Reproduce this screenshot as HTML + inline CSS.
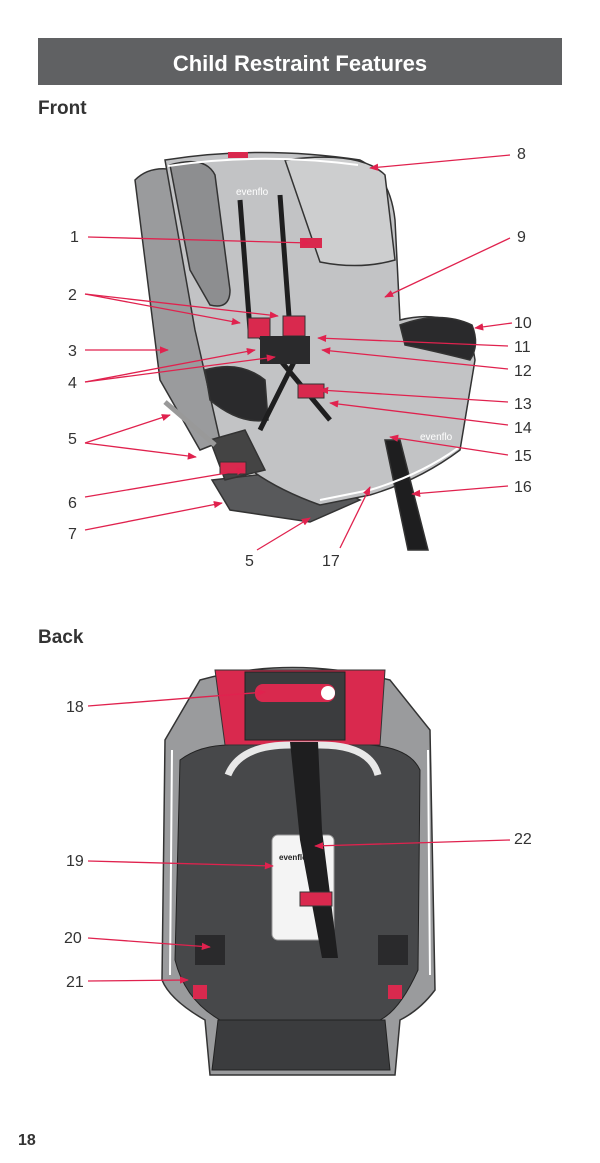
<!DOCTYPE html>
<html><head><meta charset="utf-8"><style>
html,body{margin:0;padding:0;background:#fff;}
body{width:600px;height:1163px;position:relative;overflow:hidden;font-family:"Liberation Sans",sans-serif;}
svg{position:absolute;left:0;top:0;}
</style></head><body>
<svg width="600" height="1163" viewBox="0 0 600 1163" xmlns="http://www.w3.org/2000/svg" font-family="Liberation Sans, sans-serif">
<defs>
<marker id="a" viewBox="0 0 10 10" refX="9" refY="5" markerWidth="7" markerHeight="7" orient="auto"><path d="M0,1 L10,5 L0,9 z" fill="#e0224e"/></marker>
</defs>
<rect x="38" y="38" width="524" height="47" fill="#606163"/>
<text x="300" y="71" text-anchor="middle" fill="#fff" font-size="22" font-weight="bold">Child Restraint Features</text>
<text x="38" y="114" font-size="19" font-weight="bold" fill="#333">Front</text>
<text x="38" y="643" font-size="19" font-weight="bold" fill="#333">Back</text>
<text x="18" y="1145" font-size="16" font-weight="bold" fill="#333">18</text>

<!-- FRONT SEAT -->
<g stroke="#333" stroke-width="1.5">
<path d="M212,480 L230,510 L310,522 L360,500 L300,470 Z" fill="#58595b"/>
<path d="M135,180 Q150,165 175,170 L200,330 L225,440 L200,450 L160,380 Z" fill="#9a9b9d"/>
<path d="M165,160 Q260,145 360,160 Q390,175 395,220 L400,320 Q440,310 470,330 L475,360 L460,450 Q420,480 370,495 L320,505 Q250,480 220,440 L195,330 Z" fill="#c2c3c5"/>
<path d="M170,165 Q205,155 215,175 L230,290 Q230,310 210,305 L190,270 Z" fill="#8d8e90"/>
<path d="M285,160 Q360,150 385,175 L395,260 Q360,270 320,262 Z" fill="#cdcecf"/>
<path d="M400,325 Q440,310 472,325 Q480,345 470,360 Q430,350 405,345 Z" fill="#2a2a2c"/>
<path d="M205,370 Q240,360 265,380 L268,420 Q240,425 210,400 Z" fill="#2a2a2c"/>
<path d="M210,440 L245,430 L265,470 L225,480 Z" fill="#444"/>
<path d="M385,440 L400,440 L428,550 L408,550 Z" fill="#1e1e1f"/>
<path d="M215,445 L165,402" stroke="#999" stroke-width="5"/>
</g>
<path d="M168,166 Q260,152 358,165 M458,448 Q420,475 370,490 L320,500" stroke="#fff" stroke-width="2" fill="none"/>
<rect x="228" y="152" width="20" height="6" fill="#d9294e"/>
<rect x="300" y="238" width="22" height="10" fill="#d9294e"/>
<path d="M240,200 L250,330 M280,195 L290,330 M255,330 L330,420 M300,350 L260,430" stroke="#1e1e1f" stroke-width="5" fill="none"/>
<rect x="248" y="318" width="22" height="20" fill="#d9294e" stroke="#333"/>
<rect x="283" y="316" width="22" height="20" fill="#d9294e" stroke="#333"/>
<rect x="260" y="336" width="50" height="28" fill="#2a2a2c"/>
<rect x="298" y="384" width="26" height="14" fill="#d9294e" stroke="#333"/>
<rect x="220" y="462" width="26" height="12" fill="#d9294e" stroke="#333"/>
<text x="236" y="195" font-size="10" fill="#fff">evenflo</text>
<text x="420" y="440" font-size="10" fill="#fff">evenflo</text>

<!-- BACK SEAT -->
<path d="M200,680 Q290,655 390,680 L430,730 L435,990 Q420,1010 400,1020 L395,1075 L210,1075 L205,1020 Q170,1000 162,980 L165,740 Z" fill="#9a9b9d" stroke="#333" stroke-width="1.5"/>
<path d="M180,760 Q200,745 230,745 L370,745 Q410,748 420,770 L418,970 Q400,1010 380,1020 L220,1020 Q185,1000 175,960 Z" fill="#47484a" stroke="#222"/>
<path d="M172,750 L170,975 M428,750 L430,975" stroke="#fff" stroke-width="2" fill="none"/>
<path d="M218,1020 L385,1020 L390,1070 L212,1070 Z" fill="#3b3c3e" stroke="#222"/>
<path d="M215,670 L385,670 L380,745 L225,745 Z" fill="#d9294e" stroke="#333"/>
<rect x="245" y="672" width="100" height="68" fill="#3b3c3e" stroke="#222"/>
<rect x="255" y="684" width="80" height="18" rx="8" fill="#d9294e"/>
<circle cx="328" cy="693" r="7" fill="#fff"/>
<path d="M228,775 Q240,745 290,745 L320,745 Q370,745 378,775" stroke="#e8e8e8" stroke-width="7" fill="none"/>
<rect x="272" y="835" width="62" height="105" rx="6" fill="#f4f4f4" stroke="#999"/>
<text x="279" y="860" font-size="8" font-weight="bold" fill="#222">evenflo</text>
<path d="M290,742 L318,742 L322,830 L338,958 L322,958 L300,840 Z" fill="#1e1e1f"/>
<rect x="300" y="892" width="32" height="14" fill="#d9294e" stroke="#333"/>
<rect x="193" y="985" width="14" height="14" fill="#d9294e"/>
<rect x="388" y="985" width="14" height="14" fill="#d9294e"/>
<rect x="195" y="935" width="30" height="30" fill="#2a2a2c"/>
<rect x="378" y="935" width="30" height="30" fill="#2a2a2c"/>

<!-- LEADERS -->
<g stroke="#e0224e" stroke-width="1.3" fill="none" marker-end="url(#a)">
<line x1="510" y1="155" x2="370" y2="168"/>
<line x1="88" y1="237" x2="310" y2="243"/>
<line x1="510" y1="238" x2="385" y2="297"/>
<line x1="85" y1="294" x2="278" y2="316"/>
<line x1="85" y1="294" x2="240" y2="323"/>
<line x1="512" y1="323" x2="475" y2="328"/>
<line x1="85" y1="350" x2="168" y2="350"/>
<line x1="508" y1="346" x2="318" y2="338"/>
<line x1="508" y1="369" x2="322" y2="350"/>
<line x1="85" y1="382" x2="255" y2="350"/>
<line x1="85" y1="382" x2="275" y2="357"/>
<line x1="508" y1="402" x2="320" y2="390"/>
<line x1="508" y1="425" x2="330" y2="403"/>
<line x1="85" y1="443" x2="170" y2="415"/>
<line x1="85" y1="443" x2="196" y2="457"/>
<line x1="508" y1="455" x2="390" y2="437"/>
<line x1="508" y1="486" x2="412" y2="494"/>
<line x1="85" y1="497" x2="245" y2="470"/>
<line x1="85" y1="530" x2="222" y2="503"/>
<line x1="257" y1="550" x2="310" y2="518"/>
<line x1="340" y1="548" x2="370" y2="487"/>
<line x1="88" y1="706" x2="265" y2="692"/>
<line x1="88" y1="861" x2="273" y2="866"/>
<line x1="510" y1="840" x2="315" y2="846"/>
<line x1="88" y1="938" x2="210" y2="947"/>
<line x1="88" y1="981" x2="188" y2="980"/>
</g>
<g font-size="16" fill="#333">
<text x="517" y="159">8</text><text x="70" y="242">1</text><text x="517" y="242">9</text>
<text x="68" y="300">2</text><text x="514" y="328">10</text><text x="68" y="356">3</text>
<text x="514" y="352">11</text><text x="514" y="376">12</text><text x="68" y="388">4</text>
<text x="514" y="409">13</text><text x="514" y="433">14</text><text x="68" y="444">5</text>
<text x="514" y="461">15</text><text x="514" y="492">16</text><text x="68" y="508">6</text>
<text x="68" y="539">7</text><text x="245" y="566">5</text><text x="322" y="566">17</text>
<text x="66" y="712">18</text><text x="66" y="866">19</text><text x="514" y="844">22</text>
<text x="64" y="943">20</text><text x="66" y="987">21</text>
</g>
</svg>
</body></html>
